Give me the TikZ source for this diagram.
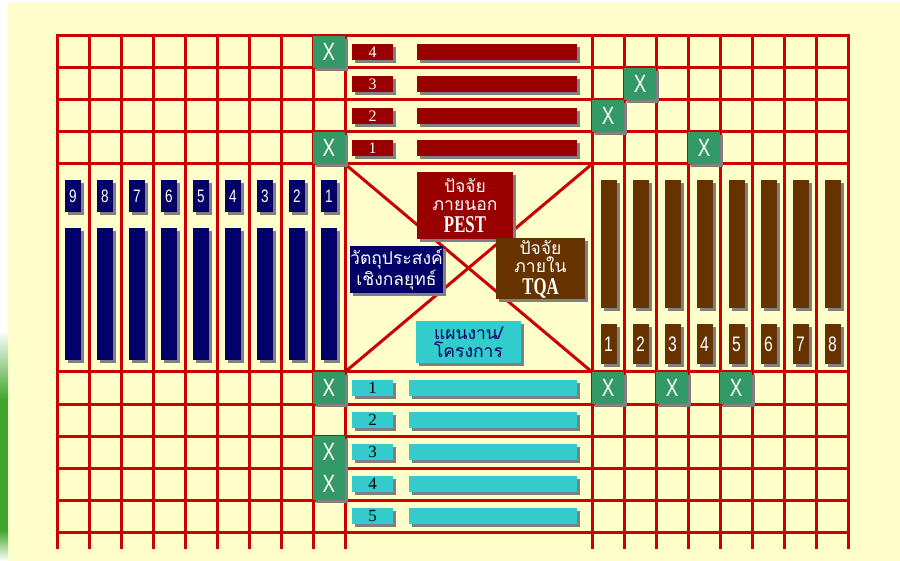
\documentclass[tikz,border=0pt]{standalone}
\usepackage{fontspec}
\setmainfont{Liberation Serif}
\newfontfamily\thaifont[Script=Thai]{Loma}
\newfontfamily\condsans[FakeStretch=0.75]{Liberation Sans}
\newfontfamily\condserif[FakeStretch=0.7]{Liberation Serif}
\usetikzlibrary{shadows}
\definecolor{paper}{HTML}{FFFFCC}
\definecolor{gridred}{HTML}{CC0000}
\definecolor{pestred}{HTML}{990000}
\definecolor{tqabrown}{HTML}{663300}
\definecolor{objnavy}{HTML}{000066}
\definecolor{plancyan}{HTML}{33CCCC}
\definecolor{markgreen}{HTML}{339966}
\definecolor{shadowgray}{HTML}{808080}
\definecolor{grass}{HTML}{3FA52A}
\tikzset{
  gridline/.style={draw=gridred, line width=3pt, line cap=rect},
  bar/.style={draw=none, inner sep=0pt,
              drop shadow={shadow xshift=3pt, shadow yshift=-3pt, fill=shadowgray, opacity=1}},
  pestbar/.style={bar, fill=pestred, minimum height=16pt, text=white,
                  font=\fontsize{16}{16}\selectfont},
  planbar/.style={bar, fill=plancyan, minimum height=16pt, text=black,
                  font=\fontsize{17}{17}\selectfont},
  objbar/.style={bar, fill=objnavy, minimum width=16pt, text=white,
                 font=\condsans\fontsize{18}{18}\selectfont},
  tqabar/.style={bar, fill=tqabrown, minimum width=16pt, text=white,
                 font=\condsans\fontsize{21}{21}\selectfont},
  xmark/.style={bar, fill=markgreen, minimum width=32pt, minimum height=32pt, text=white,
                font=\condsans\fontsize{25}{25}\selectfont},
  factor/.style={bar, align=center, text=white, font=\thaifont\fontsize{17.5}{18}\selectfont},
  keyword/.style={font=\condserif\bfseries\fontsize{25}{20}\selectfont},
}

\begin{document}
\begin{tikzpicture}[x=1pt, y=-1pt]
\useasboundingbox (0,0) rectangle (900,561);
\fill[white] (0,0) rectangle (900,561);
\fill[paper] (8,3) rectangle (900,561);
\shade[top color=white, bottom color=grass] (0,330) rectangle (8,400);
\fill[grass] (0,400) rectangle (8,530);
\shade[top color=grass, bottom color=white] (0,530) rectangle (8,561);

% --- grid ---
\foreach \y in {36,68,100,132,164,372,404,436,468,500,532}
  \draw[gridline] (57,\y) -- (848,\y);
\foreach \x in {57,89,...,345}
  \draw[gridline] (\x,36) -- (\x,547);
\foreach \x in {592,624,...,848}
  \draw[gridline] (\x,36) -- (\x,547);

\coordinate (boxNW) at (345,164);
\coordinate (boxNE) at (592,164);
\coordinate (boxSW) at (345,372);
\coordinate (boxSE) at (592,372);
\draw[gridline] (boxNW) -- (boxSE);
\draw[gridline] (boxNE) -- (boxSW);

% --- external factors (top rows) ---
\foreach \n/\y in {4/52,3/84,2/116,1/148}{
  \node[pestbar, minimum width=41pt] (pestno\n) at (372.5,\y) {\n};
  \node[pestbar, minimum width=160pt] (pest\n) at (497,\y) {};
}

% --- objectives (left columns) ---
\foreach \n in {1,...,9}{
  \node[objbar, minimum height=32pt] (objno\n) at ({329-32*(\n-1)},196) {\n};
  \node[objbar, minimum height=132pt] (obj\n) at ({329-32*(\n-1)},294) {};
}

% --- internal factors (right columns) ---
\foreach \n in {1,...,8}{
  \node[tqabar, minimum height=128pt] (tqa\n) at ({608.5+32*(\n-1)},244) {};
  \node[tqabar, minimum height=40pt] (tqano\n) at ({608.5+32*(\n-1)},344) {\n};
}

% --- plans (bottom rows) ---
\foreach \n/\y in {1/388,2/420,3/452,4/484,5/516}{
  \node[planbar, minimum width=41pt] (planno\n) at (372.5,\y) {\n};
  \node[planbar, minimum width=168pt] (plan\n) at (493,\y) {};
}

% --- centre ---
\node[factor, fill=pestred, minimum width=96pt, minimum height=67pt] (pest) at (465,205.5)
  {ปัจจัย\\ภายนอก\\[4pt]{\condserif\bfseries\fontsize{24}{20}\selectfont PEST}};
\node[factor, fill=tqabrown, minimum width=89pt, minimum height=61pt] (tqa) at (540.5,269)
  {ปัจจัย\\ภายใน\\[4pt]{\condserif\bfseries\fontsize{24}{20}\selectfont TQA}};
\node[factor, fill=objnavy, minimum width=88pt, minimum height=47pt] (objective) at (396.5,269.5)
  {วัตถุประสงค์\\เชิงกลยุทธ์};
\node[factor, fill=plancyan, text=objnavy, minimum width=105pt, minimum height=42pt] (plan) at (468.5,342.5)
  {แผนงาน/\\โครงการ};

% --- relation marks ---
\foreach \x/\y [count=\k] in {329/52,329/148,640/84,608/116,704/148,
                              329/388,329/452,329/484,608/388,672/388,736/388}
  \node[xmark] (x\k) at (\x,\y) {X};

\end{tikzpicture}
\end{document}
